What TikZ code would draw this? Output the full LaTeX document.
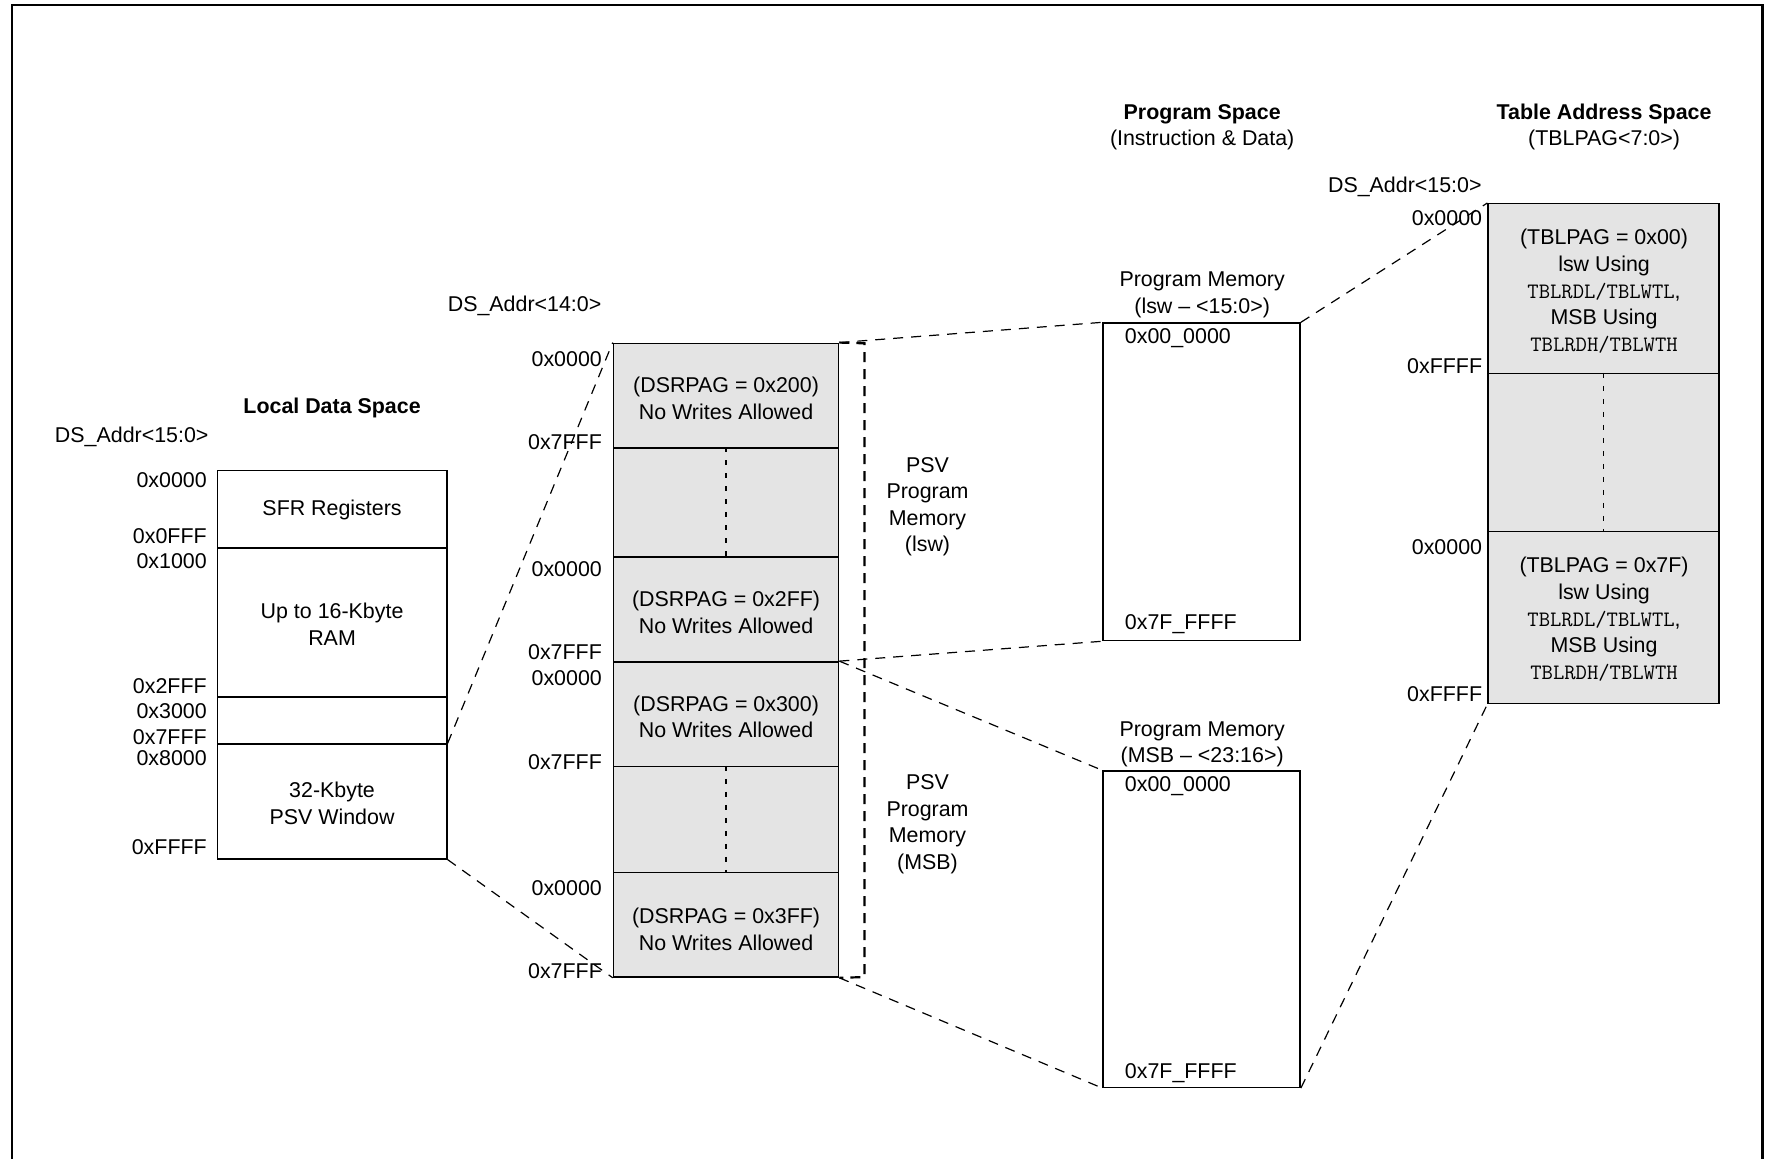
\documentclass[tikz,border=0pt]{standalone}
\usepackage{fontspec}
\setmainfont{Liberation Sans}
\usetikzlibrary{fit}
\definecolor{boxgray}{RGB}{228,228,228}
\tikzset{
  lbl/.style={inner sep=0pt, yshift=-1.5pt, font=\fontsize{10.7}{13.3}\selectfont},
  addr/.style={lbl, anchor=east},
  addrl/.style={lbl, anchor=west},
  ctext/.style={lbl, align=center},
  ttl/.style={inner sep=0pt, yshift=-1.5pt, font=\fontsize{10.7}{13.3}\selectfont\bfseries},
  membox/.style={draw, line width=0.75pt, inner sep=0pt},
  graybox/.style={membox, fill=boxgray},
  dotline/.style={line width=0.9pt, dash pattern=on 2.5pt off 4pt},
  link/.style={line width=0.6pt, dash pattern=on 5pt off 4pt},
  bracketline/.style={line width=1.1pt, dash pattern=on 5pt off 3.5pt},
  frameline/.style={line width=1.4pt},
}
\newcommand{\mono}[1]{{\ttfamily\fontsize{11}{13.3}\selectfont #1}}
\begin{document}
\begin{tikzpicture}[x=0.5628pt, y=-0.5628pt]
\useasboundingbox (0,0) rectangle (1568,1029.6);
% frame
\coordinate (fbl) at (10.7,1045);
\coordinate (ftl) at (10.7,4.4);
\coordinate (ftr) at (1566,4.4);
\coordinate (fbr) at (1566,1045);
\draw[frameline] (fbl) -- (ftl) -- (ftr) -- (fbr);

% ---------- Local Data Space ----------
\node[ttl] (ldstitle) at (295,360) {Local Data Space};
\node[lbl] (ldsaddr) at (117,385) {DS\_Addr<15:0>};
\node[membox, fit={(193,418) (397,487)}] (loc1) {};
\node[membox, fit={(193,487) (397,619)}] (loc2) {};
\node[membox, fit={(193,619) (397,661)}] (loc3) {};
\node[membox, fit={(193,661) (397,763)}] (loc4) {};
\node[ctext] (loc1t) at (295,450) {SFR Registers};
\node[ctext] (loc2t) at (295,552) {Up to 16-Kbyte\\RAM};
\node[ctext] (loc4t) at (295,711) {32-Kbyte\\PSV Window};
\node[addr] (la1) at (184,424) {0x0000};
\node[addr] (la2) at (184,474) {0x0FFF};
\node[addr] (la3) at (184,496) {0x1000};
\node[addr] (la4) at (184,607) {0x2FFF};
\node[addr] (la5) at (184,629) {0x3000};
\node[addr] (la6) at (184,652) {0x7FFF};
\node[addr] (la7) at (184,671) {0x8000};
\node[addr] (la8) at (184,750) {0xFFFF};

% ---------- PSV pages ----------
\node[lbl] (midaddr) at (466,269) {DS\_Addr<14:0>};
\node[graybox, fit={(545,305) (745,398)}] (mid1) {};
\node[graybox, fit={(545,398) (745,495)}] (mid2) {};
\node[graybox, fit={(545,495) (745,588)}] (mid3) {};
\node[graybox, fit={(545,588) (745,681)}] (mid4) {};
\node[graybox, fit={(545,681) (745,775)}] (mid5) {};
\node[graybox, fit={(545,775) (745,868)}] (mid6) {};
\draw[dotline] (mid2.north) -- (mid2.south);
\draw[dotline] (mid5.north) -- (mid5.south);
\node[ctext] (mid1t) at (645,351) {(DSRPAG = 0x200)\\No Writes Allowed};
\node[ctext] (mid3t) at (645,541.5) {(DSRPAG = 0x2FF)\\No Writes Allowed};
\node[ctext] (mid4t) at (645,634) {(DSRPAG = 0x300)\\No Writes Allowed};
\node[ctext] (mid6t) at (645,823) {(DSRPAG = 0x3FF)\\No Writes Allowed};
\node[addr] (ma1) at (535,316) {0x0000};
\node[addr] (ma2) at (535,390) {0x7FFF};
\node[addr] (ma3) at (535,503) {0x0000};
\node[addr] (ma4) at (535,577) {0x7FFF};
\node[addr] (ma5) at (535,600) {0x0000};
\node[addr] (ma6) at (535,674) {0x7FFF};
\node[addr] (ma7) at (535,786) {0x0000};
\node[addr] (ma8) at (535,860) {0x7FFF};
% bracket
\coordinate (brt) at (768,305);
\coordinate (brb) at (768,868);
\draw[bracketline] (mid1.north east) -- (brt) -- (brb) -- (mid6.south east);
\node[ctext] (psv1) at (824,447.5) {PSV\\Program\\Memory\\(lsw)};
\node[ctext] (psv2) at (824,729.5) {PSV\\Program\\Memory\\(MSB)};

% ---------- Program Space ----------
\node[ttl] (pstitle) at (1068,99) {Program Space};
\node[lbl] (pssub) at (1068,122) {(Instruction \& Data)};
\node[ctext] (lswlbl) at (1068,259.5) {Program Memory\\(lsw – <15:0>)};
\node[membox, fit={(980,287) (1155,569)}] (lsw) {};
\node[addrl] (lswa1) at (999,298) {0x00\_0000};
\node[addrl] (lswa2) at (999,552) {0x7F\_FFFF};
\node[ctext] (msblbl) at (1068,658.5) {Program Memory\\(MSB – <23:16>)};
\node[membox, fit={(980,685) (1155,966)}] (msb) {};
\node[addrl] (msba1) at (999,696) {0x00\_0000};
\node[addrl] (msba2) at (999,951) {0x7F\_FFFF};

% ---------- Table Address Space ----------
\node[ttl] (tastitle) at (1425,99) {Table Address Space};
\node[lbl] (tassub) at (1425,122) {(TBLPAG<7:0>)};
\node[lbl] (tasaddr) at (1248,163) {DS\_Addr<15:0>};
\node[graybox, fit={(1322,181) (1527,332)}] (tbl1) {};
\node[graybox, fit={(1322,332) (1527,472)}] (tbl2) {};
\node[graybox, fit={(1322,472) (1527,625)}] (tbl3) {};
\draw[dotline] (tbl2.north) -- (tbl2.south);
\node[ctext] (tbl1t) at (1425,256) {(TBLPAG = 0x00)\\lsw Using\\\mono{TBLRDL/TBLWTL},\\MSB Using\\\mono{TBLRDH/TBLWTH}};
\node[ctext] (tbl3t) at (1425,547.5) {(TBLPAG = 0x7F)\\lsw Using\\\mono{TBLRDL/TBLWTL},\\MSB Using\\\mono{TBLRDH/TBLWTH}};
\node[addr] (ta1) at (1317,191) {0x0000};
\node[addr] (ta2) at (1317,323) {0xFFFF};
\node[addr] (ta3) at (1317,483) {0x0000};
\node[addr] (ta4) at (1317,614) {0xFFFF};

% ---------- connectors ----------
\draw[link] (loc4.north east) -- (mid1.north west);
\draw[link] (loc4.south east) -- (mid6.south west);
\draw[link] (mid1.north east) -- (lsw.north west);
\draw[link] (mid4.north east) -- (lsw.south west);
\draw[link] (mid4.north east) -- (msb.north west);
\draw[link] (mid6.south east) -- (msb.south west);
\draw[link] (lsw.north east) -- (tbl1.north west);
\draw[link] (msb.south east) -- (tbl3.south west);
\end{tikzpicture}
\end{document}
